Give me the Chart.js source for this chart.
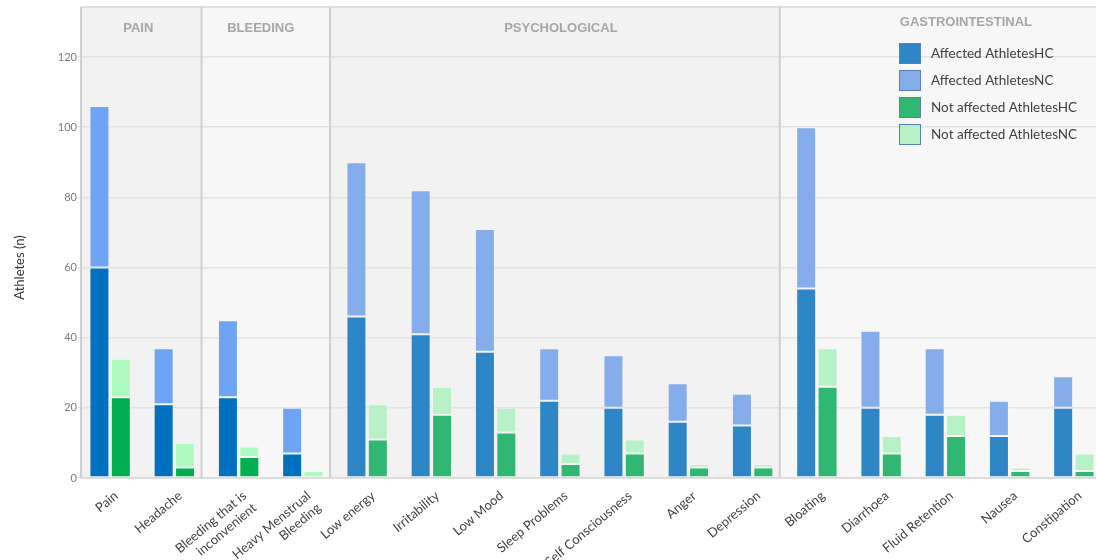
<!DOCTYPE html>
<html>
<head>
<meta charset="utf-8">
<script src="https://cdn.jsdelivr.net/npm/chart.js@4.4.1/dist/chart.umd.min.js"></script>
<style>
  html, body { margin: 0; padding: 0; background: #fff; overflow: hidden; width: 1096px; height: 560px; }
  canvas { display: block; }
</style>
</head>
<body>
<canvas id="chart" width="1110" height="560"></canvas>
<script>
// Symptom categories, grouped into four panels
const categories = [
  'Pain', 'Headache',
  ['Bleeding that is', 'inconvenient'], ['Heavy Menstrual', 'Bleeding'],
  'Low energy', 'Irritability', 'Low Mood', 'Sleep Problems', 'Self Consciousness', 'Anger', 'Depression',
  'Bloating', 'Diarrhoea', 'Fluid Retention', 'Nausea', 'Constipation'
];
const groupNames = ['PAIN', 'BLEEDING', 'PSYCHOLOGICAL', 'GASTROINTESTINAL'];
const groupSizes = [2, 2, 7, 5];

// Athlete counts per symptom (NC values stack on top of HC values)
const affectedHC    = [60, 21, 23, 7, 46, 41, 36, 22, 20, 16, 15, 54, 20, 18, 12, 20];
const affectedNC    = [46, 16, 22, 13, 44, 41, 35, 15, 15, 11, 9, 46, 22, 19, 10, 9];
const notAffectedHC = [23, 3, 6, 0, 11, 18, 13, 4, 7, 3, 3, 26, 7, 12, 2, 2];
const notAffectedNC = [11, 7, 3, 2, 10, 8, 7, 3, 4, 1, 1, 11, 5, 6, 1, 5];

const yTicks = [0, 20, 40, 60, 80, 100, 120];

// Two palettes: the first two panels use stronger tones
const palettes = [
  ['#0070c0', '#6fa4f4', '#00b050', '#adfbbe'],
  ['#2e86c6', '#85adec', '#30b872', '#b7f1c6']
];
const groupPalette = [0, 0, 1, 1];
const panelFill = ['#f2f2f2', '#f7f7f7', '#f2f2f2', '#f7f7f7'];
const headerShift = [-3, -5, 6, 23];
const headerY = [28, 28, 28, 22];

const groupOfCategory = [];
groupSizes.forEach((n, g) => { for (let i = 0; i < n; i++) groupOfCategory.push(g); });
const colorsFor = s => groupOfCategory.map(g => palettes[groupPalette[g]][s]);

const FONT = "Lato, 'Open Sans', sans-serif";

const panelsPlugin = {
  id: 'panels',
  beforeDraw(chart) {
    const { ctx, chartArea: a, scales: { x } } = chart;
    const top = 7;
    ctx.save();
    let start = 0;
    groupSizes.forEach((n, g) => {
      const l = g === 0 ? a.left + 3 : x.getPixelForValue(start - 0.5) - 5;
      const r = g === groupSizes.length - 1 ? a.right : x.getPixelForValue(start + n - 0.5) - 5;
      ctx.fillStyle = panelFill[g];
      ctx.fillRect(l, top, r - l, a.bottom - top);
      start += n;
    });
    ctx.restore();
  },
  afterDraw(chart) {
    const { ctx, chartArea: a, scales: { x } } = chart;
    const top = 7;
    ctx.save();
    // frame lines
    ctx.strokeStyle = '#d9d9d9';
    ctx.lineWidth = 1.5;
    ctx.beginPath();
    ctx.moveTo(a.left + 3, top); ctx.lineTo(a.right, top);
    ctx.moveTo(a.left + 3, a.bottom); ctx.lineTo(a.right, a.bottom);
    ctx.stroke();
    let start = 0;
    ctx.strokeStyle = '#cfcfcf';
    ctx.lineWidth = 2;
    groupSizes.forEach((n, g) => {
      const l = g === 0 ? a.left + 3 : x.getPixelForValue(start - 0.5) - 5;
      const r = g === groupSizes.length - 1 ? a.right : x.getPixelForValue(start + n - 0.5) - 5;
      ctx.beginPath();
      ctx.moveTo(l, top); ctx.lineTo(l, a.bottom);
      ctx.stroke();
      ctx.fillStyle = '#a6a6a6';
      ctx.font = "bold 13px 'Liberation Sans', Arial, sans-serif";
      ctx.textAlign = 'center';
      ctx.textBaseline = 'middle';
      ctx.fillText(groupNames[g], (l + r) / 2 + headerShift[g], headerY[g]);
      start += n;
    });

    // legend
    const lx = 899, ly = 43, step = 27;
    ctx.font = '13.5px ' + FONT;
    ctx.textAlign = 'left';
    ctx.textBaseline = 'middle';
    chart.data.datasets.forEach((ds, i) => {
      const y = ly + i * step;
      const fill = ds.backgroundColor[ds.backgroundColor.length - 1];
      ctx.fillStyle = fill;
      ctx.fillRect(lx, y, 22, 21);
      ctx.strokeStyle = '#5a7fb6';
      ctx.lineWidth = 1;
      ctx.strokeRect(lx + 0.5, y + 0.5, 21, 20);
      ctx.fillStyle = '#404040';
      ctx.fillText(ds.label, lx + 32, y + 11);
    });
    ctx.restore();
  }
};

const barBorder = 'rgba(255,255,255,0.28)';
const ds = (label, data, s, stack) => ({
  label, data, stack,
  backgroundColor: colorsFor(s),
  borderColor: barBorder,
  borderWidth: 1,
  borderSkipped: false,
  categoryPercentage: 0.666,
  barPercentage: 0.935
});

new Chart(document.getElementById('chart'), {
  type: 'bar',
  data: {
    labels: categories,
    datasets: [
      ds('Affected AthletesHC', affectedHC, 0, 'affected'),
      ds('Affected AthletesNC', affectedNC, 1, 'affected'),
      ds('Not affected AthletesHC', notAffectedHC, 2, 'notAffected'),
      ds('Not affected AthletesNC', notAffectedNC, 3, 'notAffected')
    ]
  },
  options: {
    responsive: false,
    animation: false,
    layout: { padding: { top: 57, left: 0, right: 4, bottom: 0 } },
    plugins: { legend: { display: false }, tooltip: { enabled: false } },
    scales: {
      x: {
        stacked: true,
        offset: true,
        grid: { display: false, drawTicks: false },
        border: { display: false },
        ticks: {
          autoSkip: false,
          minRotation: 40,
          maxRotation: 40,
          padding: 10,
          labelOffset: 6,
          color: '#404040',
          font: { family: FONT, size: 13 }
        },
        afterFit(scale) { scale.height = 82; }
      },
      y: {
        stacked: true,
        min: yTicks[0],
        max: yTicks[yTicks.length - 1],
        afterBuildTicks(scale) { scale.ticks = yTicks.map(v => ({ value: v })); },
        grid: { color: '#e2e2e2', lineWidth: 1.5, drawTicks: false },
        border: { display: false },
        ticks: { padding: 1, color: '#7a7a7a', font: { family: FONT, size: 11 } },
        title: {
          display: true,
          text: 'Athletes (n)',
          color: '#333333',
          font: { family: FONT, size: 13 },
          padding: { top: 12, bottom: 0 }
        },
        afterFit(scale) { scale.width = 78; }
      }
    }
  },
  plugins: [panelsPlugin]
});
</script>
</body>
</html>
